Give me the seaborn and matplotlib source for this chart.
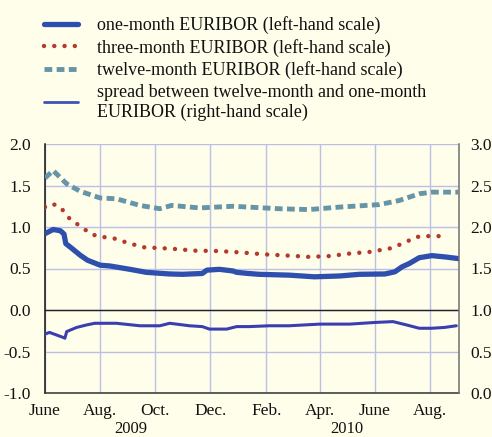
import matplotlib
matplotlib.use("Agg")
import matplotlib.pyplot as plt
import matplotlib.transforms as mtransforms
from matplotlib.lines import Line2D
import seaborn as sns
import pandas as pd

# ---------------- data ----------------
one_dates = ["2009-06-01", "2009-06-10", "2009-06-18", "2009-06-22", "2009-06-24", "2009-07-01",
             "2009-07-10", "2009-07-18", "2009-08-01", "2009-08-12", "2009-09-03", "2009-09-21",
             "2009-10-17", "2009-10-31", "2009-11-22", "2009-11-27", "2009-12-11", "2009-12-26",
             "2009-12-30", "2010-01-12", "2010-01-24", "2010-02-26", "2010-03-26", "2010-04-23",
             "2010-05-15", "2010-06-12", "2010-06-23", "2010-07-01", "2010-07-09", "2010-07-20",
             "2010-08-03", "2010-08-17", "2010-09-01"]
one_month = [0.92, 0.97, 0.955, 0.915, 0.80, 0.74,
             0.66, 0.60, 0.54, 0.53, 0.49, 0.454,
             0.434, 0.43, 0.44, 0.48, 0.49, 0.47,
             0.454, 0.44, 0.43, 0.42, 0.40, 0.41,
             0.43, 0.434, 0.46, 0.52, 0.56, 0.63,
             0.655, 0.64, 0.62]

three_dates = ["2009-06-01", "2009-06-09", "2009-06-18", "2009-06-23", "2009-06-29", "2009-07-06",
               "2009-07-14", "2009-07-21", "2009-07-29", "2009-08-17", "2009-09-03", "2009-09-19",
               "2009-10-17", "2009-11-14", "2009-12-11", "2010-01-08", "2010-01-30", "2010-02-26",
               "2010-03-20", "2010-04-12", "2010-05-04", "2010-05-26", "2010-06-17", "2010-07-04",
               "2010-07-15", "2010-07-23", "2010-08-11", "2010-08-20"]
three_month = [1.24, 1.28, 1.24, 1.17, 1.09, 1.04,
               0.98, 0.92, 0.89, 0.86, 0.80, 0.755,
               0.74, 0.715, 0.71, 0.69, 0.67, 0.655,
               0.64, 0.65, 0.68, 0.70, 0.74, 0.81,
               0.875, 0.89, 0.89, 0.88]

twelve_dates = ["2009-06-01", "2009-06-10", "2009-06-25", "2009-07-10", "2009-08-01", "2009-08-19",
                "2009-09-14", "2009-10-06", "2009-10-19", "2009-11-19", "2009-12-26", "2010-01-12",
                "2010-02-15", "2010-03-20", "2010-04-23", "2010-06-06", "2010-06-28", "2010-07-20",
                "2010-08-03", "2010-09-01"]
twelve_month = [1.59, 1.68, 1.52, 1.43, 1.35, 1.34,
                1.26, 1.22, 1.26, 1.23, 1.25, 1.24,
                1.22, 1.21, 1.24, 1.27, 1.32, 1.40,
                1.42, 1.42]

spread_dates = ["2009-06-01", "2009-06-06", "2009-06-21", "2009-06-23", "2009-06-25", "2009-07-06",
                "2009-07-17", "2009-07-26", "2009-08-19", "2009-09-14", "2009-10-06", "2009-10-17",
                "2009-11-08", "2009-11-22", "2009-11-30", "2009-12-19", "2009-12-30", "2010-01-12",
                "2010-01-13", "2010-02-04", "2010-02-26", "2010-04-01", "2010-05-04", "2010-06-01",
                "2010-06-21", "2010-07-06", "2010-07-20", "2010-08-03", "2010-08-17", "2010-08-30"]
spread = [0.71, 0.73, 0.67, 0.66, 0.74, 0.79,
          0.82, 0.84, 0.84, 0.81, 0.81, 0.84,
          0.81, 0.80, 0.77, 0.77, 0.80, 0.80,
          0.80, 0.81, 0.81, 0.83, 0.83, 0.85,
          0.86, 0.82, 0.78, 0.78, 0.79, 0.81]

tick_labels = ["June", "Aug.", "Oct.", "Dec.", "Feb.", "Apr.", "June", "Aug."]
year_labels = ["2009", "2010"]

labels = ["one-month EURIBOR (left-hand scale)",
          "three-month EURIBOR (left-hand scale)",
          "twelve-month EURIBOR (left-hand scale)",
          "spread between twelve-month and one-month\nEURIBOR (right-hand scale)"]

# ---------------- style ----------------
BG = "#fffeea"
GRID = "#bcc0e6"
C_ONE = "#2f4fae"
C_THREE = "#b43a2e"
C_TWELVE = "#6595a6"
C_SPREAD = "#3a3eb0"
FAM = ["Liberation Serif", "DejaVu Serif"]

sns.set_theme(style="white")
plt.rcParams["font.family"] = FAM

fig = plt.figure(figsize=(4.92, 4.37), dpi=100, facecolor=BG)
ax = fig.add_axes([45 / 492, 1 - 393 / 437, (459 - 45) / 492, (393 - 144) / 437])
ax.set_facecolor(BG)

df1 = pd.DataFrame({"date": pd.to_datetime(one_dates), "v": one_month})
df3 = pd.DataFrame({"date": pd.to_datetime(three_dates), "v": three_month})
df12 = pd.DataFrame({"date": pd.to_datetime(twelve_dates), "v": twelve_month})
dfs = pd.DataFrame({"date": pd.to_datetime(spread_dates), "v": spread})

sns.lineplot(data=df12, x="date", y="v", ax=ax, color=C_TWELVE, lw=3.5,
             linestyle=(0, (1.6, 0.9)), zorder=3)
sns.lineplot(data=df3, x="date", y="v", ax=ax, color=C_THREE, lw=3.2,
             linestyle=(0, (0.01, 2.3)), dash_capstyle="round", zorder=4)
sns.lineplot(data=df1, x="date", y="v", ax=ax, color=C_ONE, lw=3.8, zorder=5)

ax2 = ax.twinx()
sns.lineplot(data=dfs, x="date", y="v", ax=ax2, color=C_SPREAD, lw=2.2, zorder=5)

xmin = pd.Timestamp("2009-06-01")
xmax = pd.Timestamp("2010-09-02")
ax.set_xlim(xmin, xmax)
ax.set_ylim(-1.0, 2.0)
ax2.set_ylim(0.0, 3.0)

lvals = [-1.0, -0.5, 0.0, 0.5, 1.0, 1.5, 2.0]
rvals = [0.0, 0.5, 1.0, 1.5, 2.0, 2.5, 3.0]
ax.set_yticks(lvals)
ax.set_yticklabels([f"{v:.1f}" for v in lvals], family=FAM)
ax2.set_yticks(rvals)
ax2.set_yticklabels([f"{v:.1f}" for v in rvals], family=FAM)

ticks = pd.date_range("2009-06-01", "2010-08-01", freq="2MS")
ax.set_xticks(ticks)
ax.set_xticklabels(tick_labels, family=FAM)

for a in (ax, ax2):
    a.set_xlabel("")
    a.set_ylabel("")
ax.grid(True, color=GRID, lw=1.0)
ax.set_axisbelow(True)
ax.axhline(0.0, color="#222222", lw=1.0, zorder=2)

ax.tick_params(axis="y", length=0, pad=10, labelsize=12.5, colors="#111111")
ax2.tick_params(axis="y", length=0, pad=8, labelsize=12.5, colors="#111111")
ax.tick_params(axis="x", length=2.5, width=1.0, direction="out", pad=5,
               labelsize=12.5, colors="#111111")

for a in (ax, ax2):
    a.spines["top"].set_visible(False)
    a.spines["left"].set_color("#111111")
    a.spines["bottom"].set_color("#333333")
    a.spines["right"].set_color("#707070")
    for s in a.spines.values():
        s.set_linewidth(1.1)
ax2.spines["left"].set_visible(False)
ax2.spines["bottom"].set_visible(False)
ax.spines["right"].set_visible(False)

# year labels
trans = mtransforms.blended_transform_factory(ax.transData, fig.transFigure)
ax.text(pd.Timestamp("2009-09-04"), 0.0, year_labels[0], transform=trans,
        ha="center", va="bottom", fontsize=12, color="#111111", family=FAM)
ax.text(pd.Timestamp("2010-05-01"), 0.0, year_labels[1], transform=trans,
        ha="center", va="bottom", fontsize=12, color="#111111", family=FAM)

# legend
handles = [
    Line2D([], [], color=C_ONE, lw=3.8),
    Line2D([], [], color=C_THREE, lw=3.2, linestyle=(0, (0.01, 2.3)), dash_capstyle="round"),
    Line2D([], [], color=C_TWELVE, lw=3.5, linestyle=(0, (1.6, 0.9))),
    Line2D([], [], color="#3a55b5", lw=2.0),
]
leg = fig.legend(handles, labels, loc="upper left", bbox_to_anchor=(0.075, 0.979),
                 frameon=False, handlelength=1.85, handletextpad=1.1,
                 labelspacing=0.25, borderaxespad=0.0,
                 prop={"family": FAM, "size": 13})
for t in leg.get_texts():
    t.set_color("#111111")

fig.savefig("out.png", dpi=100, facecolor=BG)
